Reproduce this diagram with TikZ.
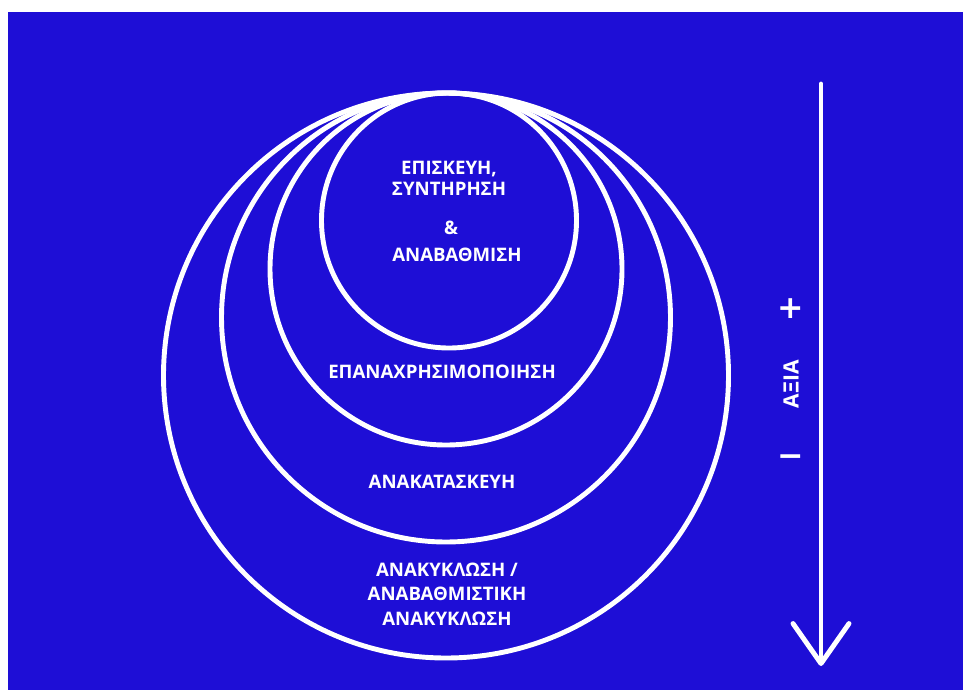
\documentclass[tikz,border=0pt]{standalone}
\usepackage{fontspec}
\setmainfont{Open Sans}
\newfontfamily\signfont{DejaVu Sans}
\usetikzlibrary{arrows.meta, positioning}

\definecolor{bgblue}{RGB}{30,14,214}

\tikzset{
  ring/.style={draw=white, line width=2.8pt},
  lbl/.style={text=white, font=\bfseries\fontsize{10.6}{14}\selectfont, align=center, inner sep=0pt},
  sign/.style={text=white, font=\signfont\bfseries\fontsize{18}{18}\selectfont, inner sep=0pt}
}

\begin{document}
\begin{tikzpicture}[x=0.02cm, y=-0.02cm]
  \useasboundingbox (0,0) rectangle (963,690);
  \fill[white] (0,0) rectangle (963,690);
  \fill[bgblue] (8,12) rectangle (963,690);

  % nested circles, all touching at the top
  \draw[ring] (446,375.5) circle (282.5);
  \draw[ring] (446,317.5) circle (224.5);
  \draw[ring] (446,269)   circle (176);
  \draw[ring] (449,220.5) circle (127.5);

  % labels
  \node (repair)  [lbl, font=\bfseries\fontsize{10.6}{12}\selectfont] at (449,178) {ΕΠΙΣΚΕΥΗ,\\ΣΥΝΤΗΡΗΣΗ};
  \node (amp)     [lbl] at (451,228) {\&};
  \node (upgrade) [lbl] at (457,255) {ΑΝΑΒΑΘΜΙΣΗ};
  \node (reuse)   [lbl] at (442,372) {ΕΠΑΝΑΧΡΗΣΙΜΟΠΟΙΗΣΗ};
  \node (reman)   [lbl] at (442,482) {ΑΝΑΚΑΤΑΣΚΕΥΗ};
  \node (recycle) [lbl] at (447,594) {ΑΝΑΚΥΚΛΩΣΗ /\\ΑΝΑΒΑΘΜΙΣΤΙΚΗ\\ΑΝΑΚΥΚΛΩΣΗ};

  % value axis
  \coordinate (axtop) at (821,84);
  \coordinate (axbot) at (821,666);
  \draw[white, line width=2.8pt, line cap=round,
        -{Straight Barb[length=0.8cm, width=1.12cm, round]}] (axtop) -- (axbot);
  \node (plus)  [sign] at (791,309) {+};
  \node (minus) [sign] at (791,461) {−};
  \node (value) [lbl, rotate=90, font=\bfseries\fontsize{12}{12}\selectfont] at (791,384) {ΑΞΙΑ};
\end{tikzpicture}
\end{document}
